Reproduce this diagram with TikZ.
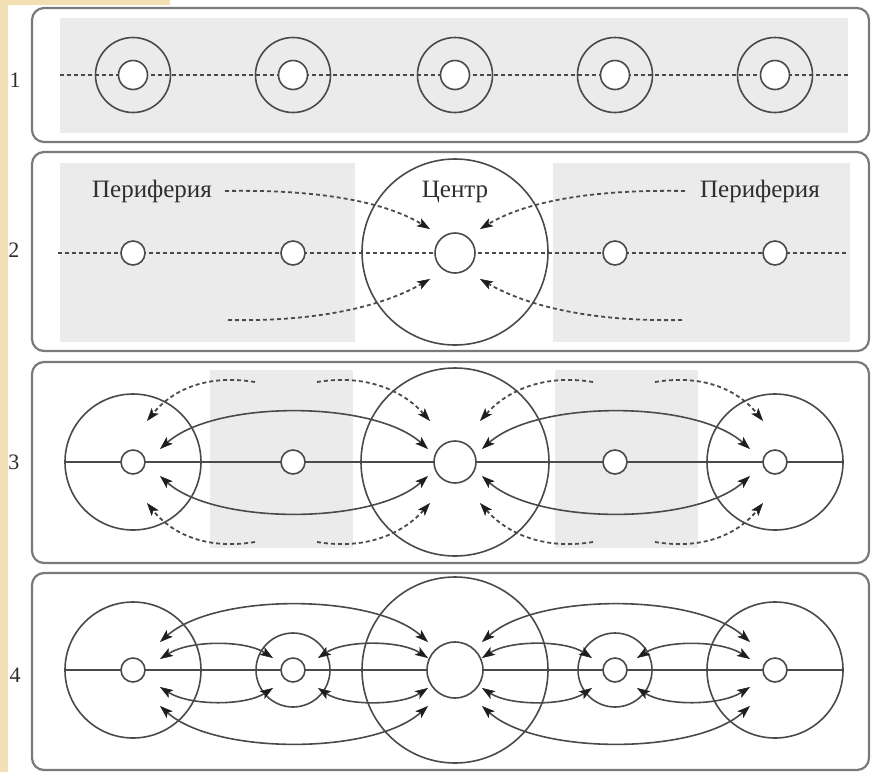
\documentclass[tikz,border=0pt]{standalone}
\usepackage{fontspec}
\setmainfont{Liberation Serif}
\usetikzlibrary{arrows.meta}
\definecolor{beige}{HTML}{F2E0B4}
\definecolor{panelgray}{HTML}{EBEBEB}
\definecolor{ink}{HTML}{4A4A4A}
\definecolor{tipcol}{HTML}{1E1E1E}
\definecolor{framecol}{HTML}{7A7A7A}
\definecolor{textcol}{HTML}{2E2E2E}
\tikzset{
  mytip/.tip={Stealth[length=13pt,width=9pt,inset=3pt,color=tipcol,fill=tipcol,line width=0.5pt]}
}
\begin{document}
\begin{tikzpicture}[x=1pt,y=-1pt,
  panel/.style={draw=framecol, line width=2.2pt, rounded corners=12pt, fill=white},
  shade/.style={fill=panelgray, draw=none},
  ring/.style={circle, draw=ink, line width=1.6pt, inner sep=0pt, fill=none},
  hub/.style={circle, draw=ink, line width=1.6pt, inner sep=0pt, fill=white},
  dline/.style={draw=ink, line width=1.8pt, dash pattern=on 4pt off 3pt},
  sline/.style={draw=ink, line width=1.6pt},
  flow/.style={sline, mytip-mytip},
  dflow/.style={dline, -mytip},
  num/.style={text=textcol, font=\fontsize{22}{26}\selectfont},
  lbl/.style={text=textcol, font=\fontsize{25}{30}\selectfont, anchor=base, inner sep=0pt}
]
\useasboundingbox (0,0) rectangle (873,772);
\fill[white] (0,0) rectangle (873,772);
\fill[beige] (0,0) rectangle (8,772);
\fill[beige] (0,0) rectangle (170,5);

% ---------- Panel 1 ----------
\draw[panel] (32,8) rectangle (869,142);
\fill[shade] (60,18) rectangle (848,133);
\coordinate (a1) at (60,75);
\coordinate (b1) at (848,75);
\draw[dline] (a1) -- (b1);
\foreach \i/\x in {1/133,2/293,3/455,4/615,5/775}{
  \node[ring, minimum size=75pt] (o1-\i) at (\x,75) {};
  \node[hub, minimum size=29pt] (h1-\i) at (\x,75) {};
}
\node[num] (n1) at (15,80) {1};

% ---------- Panel 2 ----------
\draw[panel] (32,152) rectangle (869,351);
\fill[shade] (60,163) rectangle (355,342);
\fill[shade] (553,163) rectangle (850,342);
\coordinate (a2) at (58,253);
\coordinate (b2) at (848,253);
\draw[dline] (a2) -- (b2);
\node[ring, minimum size=186pt] (c2) at (455,252) {};
\node[hub, minimum size=40pt] (h2-3) at (455,253) {};
\foreach \i/\x in {1/133,2/293,4/615,5/775}{
  \node[hub, minimum size=24pt] (h2-\i) at (\x,253) {};
}
\node[lbl] (per1) at (152,197) {Периферия};
\node[lbl] (per2) at (760,197) {Периферия};
\node[lbl] (cen) at (455,197) {Центр};
\coordinate (s2a) at (225,191); \coordinate (t2a) at (430,229);
\coordinate (s2b) at (228,320); \coordinate (t2b) at (430,279);
\coordinate (s2c) at (685,191); \coordinate (t2c) at (480,229);
\coordinate (s2d) at (682,320); \coordinate (t2d) at (480,279);
\draw[dflow] (s2a) .. controls (330,189) and (390,205) .. (t2a);
\draw[dflow] (s2b) .. controls (330,322) and (390,302) .. (t2b);
\draw[dflow] (s2c) .. controls (580,189) and (520,205) .. (t2c);
\draw[dflow] (s2d) .. controls (580,322) and (520,302) .. (t2d);
\node[num] (n2) at (14,250) {2};

% ---------- Panel 3 ----------
\draw[panel] (32,362) rectangle (869,563);
\fill[shade] (210,370) rectangle (353,548);
\fill[shade] (555,370) rectangle (698,548);
\node[ring, minimum size=136pt] (L3) at (133,462) {};
\node[ring, minimum size=188pt] (C3) at (455,462) {};
\node[ring, minimum size=136pt] (R3) at (775,462) {};
\draw[sline] (L3.west) -- (R3.east);
\foreach \i/\x in {1/133,2/293,4/615,5/775}{
  \node[hub, minimum size=24pt] (h3-\i) at (\x,462) {};
}
\node[hub, minimum size=42pt] (h3-3) at (455,462) {};
% solid double arrows
\coordinate (p3a) at (160,449); \coordinate (q3a) at (428,449);
\coordinate (p3b) at (160,476); \coordinate (q3b) at (428,476);
\coordinate (p3c) at (482,449); \coordinate (q3c) at (750,449);
\coordinate (p3d) at (482,476); \coordinate (q3d) at (750,476);
\draw[flow] (p3a) .. controls (215,400) and (373,400) .. (q3a);
\draw[flow] (p3b) .. controls (215,525) and (373,525) .. (q3b);
\draw[flow] (p3c) .. controls (537,400) and (695,400) .. (q3c);
\draw[flow] (p3d) .. controls (537,525) and (695,525) .. (q3d);
% dashed arrows
\coordinate (d3s1) at (255,382); \coordinate (d3t1) at (147,421);
\coordinate (d3s2) at (255,542); \coordinate (d3t2) at (147,503);
\coordinate (d3s3) at (317,382); \coordinate (d3t3) at (430,421);
\coordinate (d3s4) at (317,542); \coordinate (d3t4) at (430,503);
\coordinate (d3s5) at (593,382); \coordinate (d3t5) at (480,421);
\coordinate (d3s6) at (593,542); \coordinate (d3t6) at (480,503);
\coordinate (d3s7) at (655,382); \coordinate (d3t7) at (763,421);
\coordinate (d3s8) at (655,542); \coordinate (d3t8) at (763,503);
\draw[dflow] (d3s1) .. controls (200,373) and (168,395) .. (d3t1);
\draw[dflow] (d3s2) .. controls (200,551) and (168,529) .. (d3t2);
\draw[dflow] (d3s3) .. controls (372,373) and (407,395) .. (d3t3);
\draw[dflow] (d3s4) .. controls (372,551) and (407,529) .. (d3t4);
\draw[dflow] (d3s5) .. controls (538,373) and (503,395) .. (d3t5);
\draw[dflow] (d3s6) .. controls (538,551) and (503,529) .. (d3t6);
\draw[dflow] (d3s7) .. controls (710,373) and (742,395) .. (d3t7);
\draw[dflow] (d3s8) .. controls (710,551) and (742,529) .. (d3t8);
\node[num] (n3) at (14,462) {3};

% ---------- Panel 4 ----------
\draw[panel] (32,573) rectangle (869,770);
\node[ring, minimum size=136pt] (L4) at (133,670) {};
\node[ring, minimum size=74pt] (M4a) at (293,670) {};
\node[ring, minimum size=186pt] (C4) at (455,670) {};
\node[ring, minimum size=74pt] (M4b) at (615,670) {};
\node[ring, minimum size=136pt] (R4) at (775,670) {};
\draw[sline] (L4.west) -- (R4.east);
\foreach \i/\x in {1/133,2/293,4/615,5/775}{
  \node[hub, minimum size=24pt] (h4-\i) at (\x,670) {};
}
\node[hub, minimum size=56pt] (h4-3) at (455,670) {};
% left half
\coordinate (e1) at (160,642); \coordinate (f1) at (428,642);
\coordinate (e2) at (160,706); \coordinate (f2) at (428,706);
\coordinate (e3) at (160,659); \coordinate (f3) at (273,658);
\coordinate (e4) at (160,687); \coordinate (f4) at (273,688);
\coordinate (e5) at (318,658); \coordinate (f5) at (428,658);
\coordinate (e6) at (318,688); \coordinate (f6) at (428,688);
\draw[flow] (e1) .. controls (215,593) and (373,593) .. (f1);
\draw[flow] (e2) .. controls (215,755) and (373,755) .. (f2);
\draw[flow] (e3) .. controls (190,640) and (245,640) .. (f3);
\draw[flow] (e4) .. controls (190,706) and (245,706) .. (f4);
\draw[flow] (e5) .. controls (345,640) and (400,640) .. (f5);
\draw[flow] (e6) .. controls (345,706) and (400,706) .. (f6);
% right half
\coordinate (g1) at (750,642); \coordinate (k1) at (482,642);
\coordinate (g2) at (750,706); \coordinate (k2) at (482,706);
\coordinate (g3) at (750,659); \coordinate (k3) at (637,658);
\coordinate (g4) at (750,687); \coordinate (k4) at (637,688);
\coordinate (g5) at (592,658); \coordinate (k5) at (482,658);
\coordinate (g6) at (592,688); \coordinate (k6) at (482,688);
\draw[flow] (g1) .. controls (695,593) and (537,593) .. (k1);
\draw[flow] (g2) .. controls (695,755) and (537,755) .. (k2);
\draw[flow] (g3) .. controls (720,640) and (665,640) .. (k3);
\draw[flow] (g4) .. controls (720,706) and (665,706) .. (k4);
\draw[flow] (g5) .. controls (565,640) and (510,640) .. (k5);
\draw[flow] (g6) .. controls (565,706) and (510,706) .. (k6);
\node[num] (n4) at (15,675) {4};
\end{tikzpicture}
\end{document}
